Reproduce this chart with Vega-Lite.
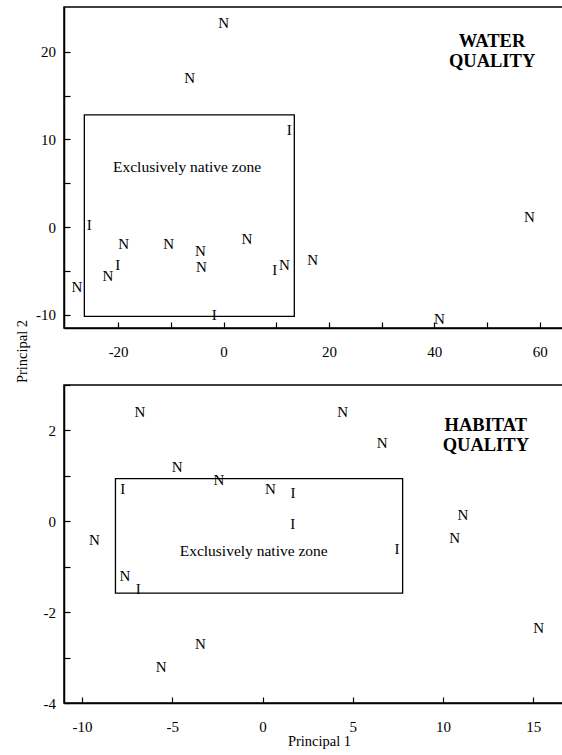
{
  "$schema": "https://vega.github.io/schema/vega-lite/v6.json",
  "padding": {"left": 13, "top": 6, "right": 0, "bottom": 0},
  "background": "white",
  "spacing": 57,
  "bounds": "flush",
  "datasets": {
    "water": [
      {"x": 0.04, "y": 23.3, "type": "N"},
      {"x": -6.41, "y": 17.04, "type": "N"},
      {"x": 12.49, "y": 11.08, "type": "I"},
      {"x": -25.46, "y": 0.26, "type": "I"},
      {"x": -18.94, "y": -1.94, "type": "N"},
      {"x": -10.4, "y": -1.9, "type": "N"},
      {"x": -4.4, "y": -2.67, "type": "N"},
      {"x": 4.46, "y": -1.3, "type": "N"},
      {"x": -4.21, "y": -4.49, "type": "N"},
      {"x": -20.08, "y": -4.29, "type": "I"},
      {"x": -21.92, "y": -5.55, "type": "N"},
      {"x": -27.8, "y": -6.83, "type": "N"},
      {"x": 9.72, "y": -4.86, "type": "I"},
      {"x": 11.54, "y": -4.29, "type": "N"},
      {"x": -1.75, "y": -9.99, "type": "I"},
      {"x": 16.93, "y": -3.72, "type": "N"},
      {"x": 40.95, "y": -10.48, "type": "N"},
      {"x": 58.03, "y": 1.21, "type": "N"}
    ],
    "habitat": [
      {"x": -6.8, "y": 2.41, "type": "N"},
      {"x": -4.73, "y": 1.2, "type": "N"},
      {"x": -2.42, "y": 0.9, "type": "N"},
      {"x": -7.74, "y": 0.7, "type": "I"},
      {"x": 0.43, "y": 0.72, "type": "N"},
      {"x": 1.68, "y": 0.62, "type": "I"},
      {"x": 1.67, "y": -0.07, "type": "I"},
      {"x": -9.31, "y": -0.42, "type": "N"},
      {"x": -7.63, "y": -1.21, "type": "N"},
      {"x": -6.89, "y": -1.48, "type": "I"},
      {"x": -3.44, "y": -2.71, "type": "N"},
      {"x": -5.62, "y": -3.2, "type": "N"},
      {"x": 4.44, "y": 2.41, "type": "N"},
      {"x": 6.62, "y": 1.72, "type": "N"},
      {"x": 7.45, "y": -0.6, "type": "I"},
      {"x": 11.1, "y": 0.13, "type": "N"},
      {"x": 10.64, "y": -0.37, "type": "N"},
      {"x": 15.29, "y": -2.36, "type": "N"}
    ],
    "waterZone": [{"x1": -26.41, "x2": 13.43, "y1": 12.79, "y2": -10.18}],
    "habitatZone": [{"x1": -8.15, "x2": 7.76, "y1": 0.94, "y2": -1.58}],
    "one": [{}]
  },
  "vconcat": [
    {
      "width": 500,
      "height": 321,
      "layer": [
        {
          "data": {"name": "waterZone"},
          "mark": {"type": "rect", "fillOpacity": 0, "stroke": "black", "strokeWidth": 1.3},
          "encoding": {
            "x": {"field": "x1", "type": "quantitative",
                  "scale": {"domain": [-30.27, 64.6], "nice": false, "zero": false},
                  "axis": {"values": [-20, -10, 0, 10, 20, 30, 40, 50, 60],
                           "labelExpr": "datum.value % 20 === 0 ? '' + datum.value : ''",
                           "title": null}},
            "x2": {"field": "x2"},
            "y": {"field": "y1", "type": "quantitative",
                  "scale": {"domain": [-11.5, 25.1], "nice": false, "zero": false},
                  "axis": {"values": [-10, -5, 0, 5, 10, 15, 20],
                           "labelExpr": "datum.value % 10 === 0 ? '' + datum.value : ''",
                           "title": "Principal 2",
                           "titleX": -42, "titleY": 344, "titleAlign": "center",
                           "titleBaseline": "middle", "titleAngle": -90}},
            "y2": {"field": "y2"}
          }
        },
        {
          "data": {"name": "water"},
          "mark": {"type": "text", "font": "Liberation Serif", "fontSize": 15, "color": "black", "align": "center", "baseline": "middle"},
          "encoding": {
            "x": {"field": "x", "type": "quantitative"},
            "y": {"field": "y", "type": "quantitative"},
            "text": {"field": "type"}
          }
        },
        {
          "data": {"name": "one"},
          "mark": {"type": "text", "text": "Exclusively native zone", "font": "Liberation Serif", "fontSize": 15.5, "color": "black", "align": "center", "baseline": "middle"},
          "encoding": {
            "x": {"datum": -6.93, "type": "quantitative"},
            "y": {"datum": 6.9, "type": "quantitative"}
          }
        },
        {
          "data": {"name": "one"},
          "mark": {"type": "text", "text": ["WATER", "QUALITY"], "font": "Liberation Serif", "fontSize": 18.5, "fontWeight": "bold", "lineHeight": 20, "color": "black", "align": "center", "baseline": "middle"},
          "encoding": {
            "x": {"datum": 50.95, "type": "quantitative"},
            "y": {"datum": 21.25, "type": "quantitative"}
          }
        }
      ]
    },
    {
      "width": 500,
      "height": 318,
      "layer": [
        {
          "data": {"name": "habitatZone"},
          "mark": {"type": "rect", "fillOpacity": 0, "stroke": "black", "strokeWidth": 1.3},
          "encoding": {
            "x": {"field": "x1", "type": "quantitative",
                  "scale": {"domain": [-11, 16.7], "nice": false, "zero": false},
                  "axis": {"values": [-10, -5, 0, 5, 10, 15],
                           "labelExpr": "'' + datum.value",
                           "title": "Principal 1", "titleX": 255, "titleY": 31.5,
                           "titleBaseline": "top", "titleAlign": "center"}},
            "x2": {"field": "x2"},
            "y": {"field": "y1", "type": "quantitative",
                  "scale": {"domain": [-4, 3], "nice": false, "zero": false},
                  "axis": {"values": [-4, -3, -2, -1, 0, 1, 2, 3],
                           "labelExpr": "datum.value % 2 === 0 ? '' + datum.value : ''",
                           "title": null}},
            "y2": {"field": "y2"}
          }
        },
        {
          "data": {"name": "habitat"},
          "mark": {"type": "text", "font": "Liberation Serif", "fontSize": 15, "color": "black", "align": "center", "baseline": "middle"},
          "encoding": {
            "x": {"field": "x", "type": "quantitative"},
            "y": {"field": "y", "type": "quantitative"},
            "text": {"field": "type"}
          }
        },
        {
          "data": {"name": "one"},
          "mark": {"type": "text", "text": "Exclusively native zone", "font": "Liberation Serif", "fontSize": 15.5, "color": "black", "align": "center", "baseline": "middle"},
          "encoding": {
            "x": {"datum": -0.49, "type": "quantitative"},
            "y": {"datum": -0.66, "type": "quantitative"}
          }
        },
        {
          "data": {"name": "one"},
          "mark": {"type": "text", "text": ["HABITAT", "QUALITY"], "font": "Liberation Serif", "fontSize": 18.5, "fontWeight": "bold", "lineHeight": 20, "color": "black", "align": "center", "baseline": "middle"},
          "encoding": {
            "x": {"datum": 12.37, "type": "quantitative"},
            "y": {"datum": 2.11, "type": "quantitative"}
          }
        }
      ]
    }
  ],
  "config": {
    "view": {"stroke": "black", "strokeWidth": 1.5},
    "axis": {
      "grid": false,
      "domainColor": "black",
      "domainWidth": 1.5,
      "tickColor": "black",
      "tickWidth": 1.2,
      "tickSize": -6,
      "labelFont": "Liberation Serif",
      "labelFontSize": 15,
      "labelColor": "black",
      "titleFont": "Liberation Serif",
      "titleFontSize": 14.5,
      "titleFontWeight": "normal",
      "titleColor": "black"
    },
    "axisX": {"labelPadding": 22.5},
    "axisY": {"labelPadding": 14.4}
  }
}
